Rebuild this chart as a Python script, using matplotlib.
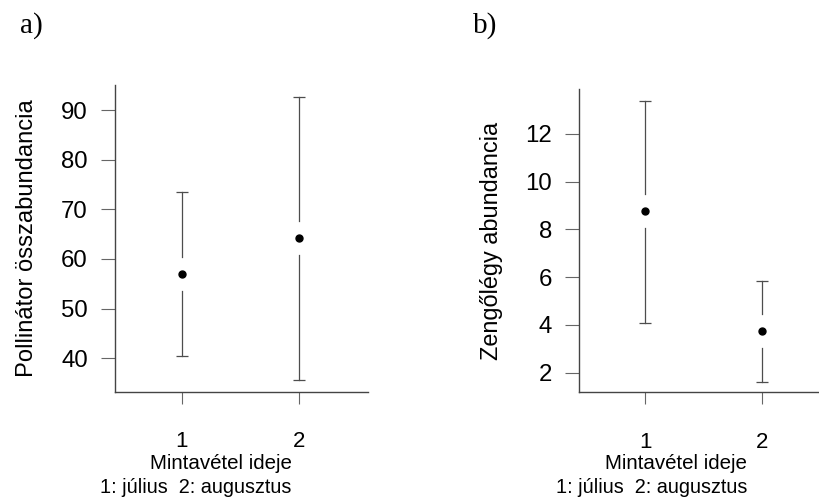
import matplotlib
matplotlib.use("Agg")
import matplotlib.pyplot as plt

# Data
months = [1, 2]
month_labels = ['1', '2']

poll_mean = [57.0, 64.2]
poll_low = [40.5, 35.6]
poll_high = [73.4, 92.6]

hover_mean = [8.76, 3.76]
hover_low = [4.07, 1.62]
hover_high = [13.40, 5.84]

W, H = 819, 504
plt.rcParams['font.family'] = ['Liberation Sans', 'DejaVu Sans']

fig = plt.figure(figsize=(W / 100, H / 100), dpi=100)


def px_axes(left, top, right, bottom):
    return fig.add_axes([left / W, 1 - bottom / H, (right - left) / W, (bottom - top) / H])


def fig_text(x, y, s, **kw):
    fig.text(x / W, 1 - y / H, s, **kw)


def ci_panel(ax, mean, low, high, ylim, yticks, height_px):
    ax.set_xlim(0.433, 2.587)
    ax.set_ylim(*ylim)
    gap = 17 * (ylim[1] - ylim[0]) / height_px
    for x, m, lo, hi in zip(months, mean, low, high):
        ax.plot([x, x], [lo, m - gap], color='#4d4d4d', lw=0.9)
        ax.plot([x, x], [m + gap, hi], color='#4d4d4d', lw=0.9)
        ax.plot([x, x], [lo, hi], ls='none', marker='_', ms=8.6, mew=0.9, color='#4d4d4d')
    ax.plot(months, mean, 'o', color='black', ms=5)

    for s in ['top', 'right']:
        ax.spines[s].set_visible(False)
    for s in ['left', 'bottom']:
        ax.spines[s].set_color('#444444')
        ax.spines[s].set_linewidth(1.0)
    ax.set_yticks(yticks)
    ax.set_xticks(months)
    ax.set_xticklabels(month_labels)
    ax.tick_params(axis='y', length=10, width=0.8, color='#666666', pad=9.5, labelsize=17.3)
    ax.tick_params(axis='x', length=8.8, width=0.8, color='#666666', pad=19.5, labelsize=16)


# a) panel
ax1 = px_axes(115, 85, 368.3, 391.7)
ci_panel(ax1, poll_mean, poll_low, poll_high, (33.25, 95.05), [40, 50, 60, 70, 80, 90], 391.7 - 85)
fig_text(33.3, 238.3, 'Pollinátor összabundancia', rotation=90, rotation_mode='anchor',
         ha='center', va='baseline', fontsize=17.1)
fig_text(291.7, 469, 'Mintavétel ideje', ha='right', va='baseline', fontsize=14.8)
fig_text(291.7, 493, '1: július  2: augusztus', ha='right', va='baseline', fontsize=14.3)
fig_text(20, 33, 'a)', family='Liberation Serif', fontsize=21, va='baseline')

# b) panel
ax2 = px_axes(579.3, 89, 830.7, 392.3)
ci_panel(ax2, hover_mean, hover_low, hover_high, (1.18, 13.885), [2, 4, 6, 8, 10, 12], 392.3 - 89)
fig_text(498.3, 240.7, 'Zengőlégy abundancia', rotation=90, rotation_mode='anchor',
         ha='center', va='baseline', fontsize=16.9)
fig_text(747.3, 469, 'Mintavétel ideje', ha='right', va='baseline', fontsize=14.8)
fig_text(747.3, 493, '1: július  2: augusztus', ha='right', va='baseline', fontsize=14.3)
fig_text(473, 33, 'b)', family='Liberation Serif', fontsize=21, va='baseline')

fig.savefig('out.png', dpi=100)
